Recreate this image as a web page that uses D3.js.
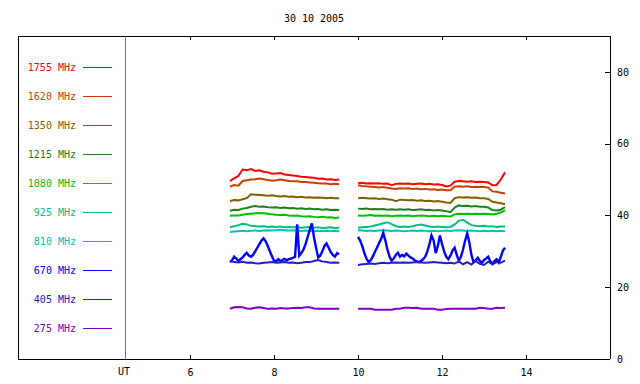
<!DOCTYPE html>
<html>
<head>
<meta charset="utf-8">
<script src="https://cdn.jsdelivr.net/npm/d3@7"></script>
<style>
  body { margin: 0; background: #fff; }
  text { font-family: "DejaVu Sans Mono", monospace; font-size: 10px; }
</style>
</head>
<body>
<div id="chart"></div>
<script>
// frequencies, top to bottom in the legend
const freqs = ["1755", "1620", "1350", "1215", "1080", "925", "810", "670", "405", "275"];
const colors = ["#ff0000", "#c84000", "#806000", "#208020", "#00c000", "#00c080", "#00c0c0", "#0000ff", "#2020c0", "#8000c0"];

// UT hours (coarse sampling)
const tA = [6.95,7.05,7.15,7.25,7.35,7.45,7.55,7.65,7.75,7.85,7.95,8.05,8.15,8.25,8.35,8.45,8.55,8.65,8.75,8.85,8.95,9.05,9.15,9.25,9.35,9.45,9.55];
const tB = [10.0,10.1,10.2,10.3,10.4,10.5,10.6,10.7,10.8,10.9,11.0,11.1,11.2,11.3,11.4,11.5,11.6,11.7,11.8,11.9,12.0,12.1,12.2,12.3,12.4,12.5,12.6,12.7,12.8,12.9,13.0,13.1,13.2,13.3,13.4,13.5];
// finer sampling for 670 MHz
const tAfine = [6.95,7.00,7.05,7.10,7.15,7.20,7.25,7.30,7.35,7.40,7.45,7.50,7.55,7.60,7.65,7.70,7.75,7.80,7.85,7.90,7.95,8.00,8.05,8.10,8.15,8.20,8.25,8.30,8.35,8.40,8.45,8.50,8.55,8.60,8.65,8.70,8.75,8.80,8.85,8.90,8.95,9.00,9.05,9.10,9.15,9.20,9.25,9.30,9.35,9.40,9.45,9.50,9.55];
const tBfine = [10.00,10.05,10.10,10.15,10.20,10.25,10.30,10.35,10.40,10.45,10.50,10.55,10.60,10.65,10.70,10.75,10.80,10.85,10.90,10.95,11.00,11.05,11.10,11.15,11.20,11.25,11.30,11.35,11.40,11.45,11.50,11.55,11.60,11.65,11.70,11.75,11.80,11.85,11.90,11.95,12.00,12.05,12.10,12.15,12.20,12.25,12.30,12.35,12.40,12.45,12.50,12.55,12.60,12.65,12.70,12.75,12.80,12.85,12.90,12.95,13.00,13.05,13.10,13.15,13.20,13.25,13.30,13.35,13.40,13.45,13.50];

// flux values (plot units)
const f1755A = [49.6,50.3,51.0,52.8,52.6,52.9,52.4,52.6,52.2,52.0,51.6,51.7,51.8,51.4,51.3,51.1,51.0,50.8,50.7,50.6,50.5,50.2,50.3,50.0,50.1,49.9,50.0];
const f1755B = [49.0,49.1,48.9,49.0,48.9,49.0,48.8,48.9,48.4,48.8,48.9,48.8,48.9,48.7,48.8,48.9,48.7,48.8,48.6,48.7,48.5,48.1,48.3,49.4,49.6,49.5,49.4,49.5,49.3,49.4,49.3,49.2,48.4,48.5,50.0,52.0];
const f1620A = [48.0,48.5,48.3,49.6,49.8,50.0,50.1,50.3,50.1,49.9,49.7,49.8,50.0,49.8,49.6,49.5,49.5,49.3,49.3,49.2,49.1,49.0,48.9,48.9,48.7,48.8,48.7];
const f1620B = [48.4,48.2,48.1,48.0,47.9,47.8,47.9,47.7,47.5,47.4,47.6,47.5,47.6,47.4,47.5,47.3,47.4,47.2,47.3,47.1,47.2,47.0,47.0,48.0,48.1,48.0,48.1,47.9,48.0,47.9,47.9,47.8,46.7,46.6,46.3,46.1];
const f1350A = [44.0,44.3,44.2,44.5,44.8,45.9,45.8,45.7,45.6,45.5,45.6,45.4,45.3,45.4,45.2,45.3,45.1,45.2,45.0,45.1,44.9,45.0,44.9,44.8,44.9,44.8,44.8];
const f1350B = [44.8,44.9,44.8,44.7,44.8,44.6,44.7,44.5,44.4,44.0,44.4,44.3,44.2,44.3,44.1,44.2,44.0,44.1,43.9,44.0,43.8,43.6,43.5,44.8,45.1,45.0,45.1,44.9,45.0,44.8,44.8,44.6,43.8,43.6,43.4,43.1];
const f1215A = [41.3,41.6,41.5,41.9,42.1,42.4,42.6,42.4,42.5,42.3,42.2,42.3,42.1,42.2,42.0,42.1,41.9,42.0,41.8,41.9,41.7,41.8,41.6,41.7,41.5,41.6,41.5];
const f1215B = [41.9,41.8,41.9,41.7,41.8,41.7,41.8,41.6,41.7,41.6,41.7,41.6,41.7,41.5,41.6,41.7,41.5,41.6,41.4,41.5,41.4,41.2,40.9,42.2,42.8,42.6,42.7,42.5,42.6,42.4,42.4,42.2,41.5,41.4,41.6,42.3];
const f1080A = [39.9,40.0,40.0,40.2,40.4,40.5,40.6,40.7,40.6,40.5,40.3,40.2,40.1,40.2,40.0,39.9,40.0,39.8,39.7,39.8,39.6,39.5,39.6,39.4,39.5,39.3,39.4];
const f1080B = [40.0,39.9,40.0,40.1,39.9,40.0,39.9,40.0,39.8,39.9,40.0,39.9,40.0,39.8,39.9,40.0,39.9,39.8,39.9,39.8,39.9,39.8,39.7,40.3,40.5,40.4,40.5,40.4,40.5,40.4,40.5,40.4,40.3,40.5,40.8,41.4];
const f925A = [36.7,37.0,37.3,37.7,37.5,37.1,37.0,36.9,37.0,36.8,36.9,36.8,36.9,36.7,36.8,36.7,36.8,36.6,36.7,36.8,36.6,36.7,36.5,36.6,36.7,36.5,36.6];
const f925B = [36.6,36.7,36.8,36.9,37.2,37.5,37.8,38.1,37.6,37.0,36.8,36.9,36.8,37.0,37.3,37.5,37.2,36.9,36.8,36.9,36.8,36.7,36.8,37.5,38.5,38.8,38.0,37.3,37.1,37.0,37.1,36.9,37.0,36.8,36.9,36.9];
const f810A = [35.4,35.5,35.6,35.7,35.6,35.7,35.8,35.7,35.8,35.9,35.8,35.9,36.0,35.9,35.8,35.9,35.8,35.7,35.8,35.7,35.6,35.7,35.6,35.7,35.6,35.7,35.6];
const f810B = [35.9,35.8,35.7,35.8,35.7,35.8,35.9,35.8,35.7,35.8,35.7,35.6,35.7,35.8,35.7,35.8,35.7,35.6,35.7,35.6,35.7,35.8,35.7,35.8,35.9,35.8,35.7,35.8,35.7,35.6,35.7,35.6,35.7,35.6,35.7,35.6];
const f670A = [27.0,27.5,28.5,28.0,27.3,27.8,28.3,29.0,29.6,28.8,28.5,29.0,30.0,31.0,32.0,33.0,33.6,32.8,31.5,30.0,28.6,27.4,27.2,27.8,27.3,27.6,27.9,27.5,27.8,28.0,28.2,28.5,37.5,28.8,29.5,30.5,32.0,34.0,36.0,37.8,34.0,31.0,28.3,28.8,30.0,31.5,32.2,31.0,29.8,29.0,28.5,29.5,29.2];
const f670B = [34.0,33.0,31.5,29.5,28.0,27.0,27.5,28.5,29.8,31.0,32.3,33.5,35.2,33.0,30.5,28.5,27.4,28.0,29.0,29.6,28.5,29.0,28.6,29.4,28.8,28.3,28.0,27.5,27.2,27.0,27.3,27.8,28.5,30.0,32.0,34.4,33.0,29.5,31.5,34.4,32.0,30.0,28.5,27.8,28.8,30.2,31.0,29.0,27.4,28.5,30.5,33.0,35.0,32.5,29.0,27.0,27.5,28.2,27.3,26.8,27.6,28.0,28.5,27.2,26.5,27.3,27.8,26.9,28.5,30.2,31.0];
const f405A = [27.3,27.0,26.9,27.1,26.8,26.9,26.7,26.6,26.8,26.9,27.0,26.8,26.9,27.0,26.8,26.9,26.7,26.8,27.0,27.0,27.3,27.6,27.2,27.0,26.8,26.9,26.8];
const f405B = [26.2,26.4,26.5,26.6,26.5,26.7,26.8,26.7,26.8,26.9,26.8,26.9,26.8,26.9,27.0,26.9,26.8,26.9,27.0,26.9,26.8,26.7,26.8,26.6,27.2,26.4,27.0,26.3,27.3,26.5,26.2,27.1,26.4,27.0,26.8,27.4];
const f275A = [14.0,14.4,14.5,14.4,14.1,14.0,14.3,14.4,14.2,14.0,14.1,14.0,14.2,14.1,14.1,14.2,14.3,14.2,14.4,14.4,14.1,14.0,14.0,14.0,14.0,14.0,14.0];
const f275B = [14.0,14.0,14.0,14.0,13.7,13.7,13.7,13.7,13.7,14.0,14.0,14.3,14.3,14.2,14.3,14.0,14.0,14.0,14.0,13.7,13.7,13.9,14.0,14.0,14.0,14.0,14.0,14.0,14.0,14.3,14.2,14.0,14.0,14.3,14.2,14.3];

const xTicks = [6, 8, 10, 12, 14];
const yTicks = [0, 20, 40, 60, 80];

const series = [
  { f: "1755", a: [tA, f1755A], b: [tB, f1755B] },
  { f: "1620", a: [tA, f1620A], b: [tB, f1620B] },
  { f: "1350", a: [tA, f1350A], b: [tB, f1350B] },
  { f: "1215", a: [tA, f1215A], b: [tB, f1215B] },
  { f: "1080", a: [tA, f1080A], b: [tB, f1080B] },
  { f: "925",  a: [tA, f925A],  b: [tB, f925B] },
  { f: "810",  a: [tA, f810A],  b: [tB, f810B] },
  { f: "670",  a: [tAfine, f670A], b: [tBfine, f670B] },
  { f: "405",  a: [tA, f405A],  b: [tB, f405B] },
  { f: "275",  a: [tA, f275A],  b: [tB, f275B] }
];

const width = 640, height = 384;
const frameL = 18, utX = 125, frameR = 610, frameT = 36, frameB = 359;

const svg = d3.select("#chart").append("svg")
  .attr("width", width)
  .attr("height", height);

const x = d3.scaleLinear().domain([4.45, 16]).range([utX, frameR]);
const y = d3.scaleLinear().domain([0, 90]).range([frameB, frameT]);

// title
svg.append("text")
  .attr("x", (frameL + frameR) / 2)
  .attr("y", 22)
  .attr("text-anchor", "middle")
  .text("30 10 2005");

// data lines
const line = d3.line().x(d => x(d[0])).y(d => y(d[1]));
const dataG = svg.append("g");
series.forEach((s, i) => {
  [s.a, s.b].forEach(seg => {
    const pts = seg[0].map((t, k) => [t, seg[1][k]]);
    dataG.append("path")
      .datum(pts)
      .attr("fill", "none")
      .attr("stroke", colors[i])
      .attr("stroke-width", s.f === "670" ? 2.4 : 2)
      .attr("d", line);
  });
});

// frame
const frame = svg.append("g").attr("shape-rendering", "crispEdges");
frame.append("line").attr("x1", frameL).attr("x2", frameL).attr("y1", frameT).attr("y2", frameB).attr("stroke", "#000");
frame.append("line").attr("x1", frameL).attr("x2", frameR).attr("y1", frameT).attr("y2", frameT).attr("stroke", "#000");
frame.append("line").attr("x1", frameL).attr("x2", frameR).attr("y1", frameB).attr("y2", frameB).attr("stroke", "#000");
frame.append("line").attr("x1", frameR).attr("x2", frameR).attr("y1", frameT).attr("y2", frameB).attr("stroke", "#000");
frame.append("line").attr("x1", utX).attr("x2", utX).attr("y1", frameT).attr("y2", frameB).attr("stroke", "#777");

// bottom axis
const xAxis = svg.append("g")
  .attr("transform", `translate(0,${frameB})`)
  .call(d3.axisBottom(x).tickValues(xTicks).tickSizeInner(-4).tickSizeOuter(0).tickPadding(10));
// top ticks
const xTop = svg.append("g")
  .attr("transform", `translate(0,${frameT})`)
  .call(d3.axisTop(x).tickValues(xTicks).tickSizeInner(-4).tickSizeOuter(0).tickFormat(""));
// right axis
const yAxis = svg.append("g")
  .attr("transform", `translate(${frameR},0)`)
  .call(d3.axisRight(y).tickValues(yTicks).tickSizeInner(-5).tickSizeOuter(0).tickPadding(7));

[xAxis, xTop, yAxis].forEach(g => {
  g.select(".domain").remove();
  g.attr("font-family", null).attr("font-size", null);
  g.selectAll("line").attr("stroke", "#000").attr("shape-rendering", "crispEdges");
  g.selectAll("text").attr("fill", "#000");
});

svg.append("text")
  .attr("x", utX - 1)
  .attr("y", 375)
  .attr("text-anchor", "middle")
  .text("UT");

// legend
const leg = svg.append("g");
freqs.forEach((f, i) => {
  const ly = 67.5 + i * 29;
  leg.append("text")
    .attr("x", 76)
    .attr("y", ly + 3.5)
    .attr("text-anchor", "end")
    .attr("fill", colors[i])
    .text(f + " MHz");
  leg.append("line")
    .attr("x1", 83).attr("x2", 112)
    .attr("y1", ly).attr("y2", ly)
    .attr("stroke", colors[i]);
});
</script>
</body>
</html>
